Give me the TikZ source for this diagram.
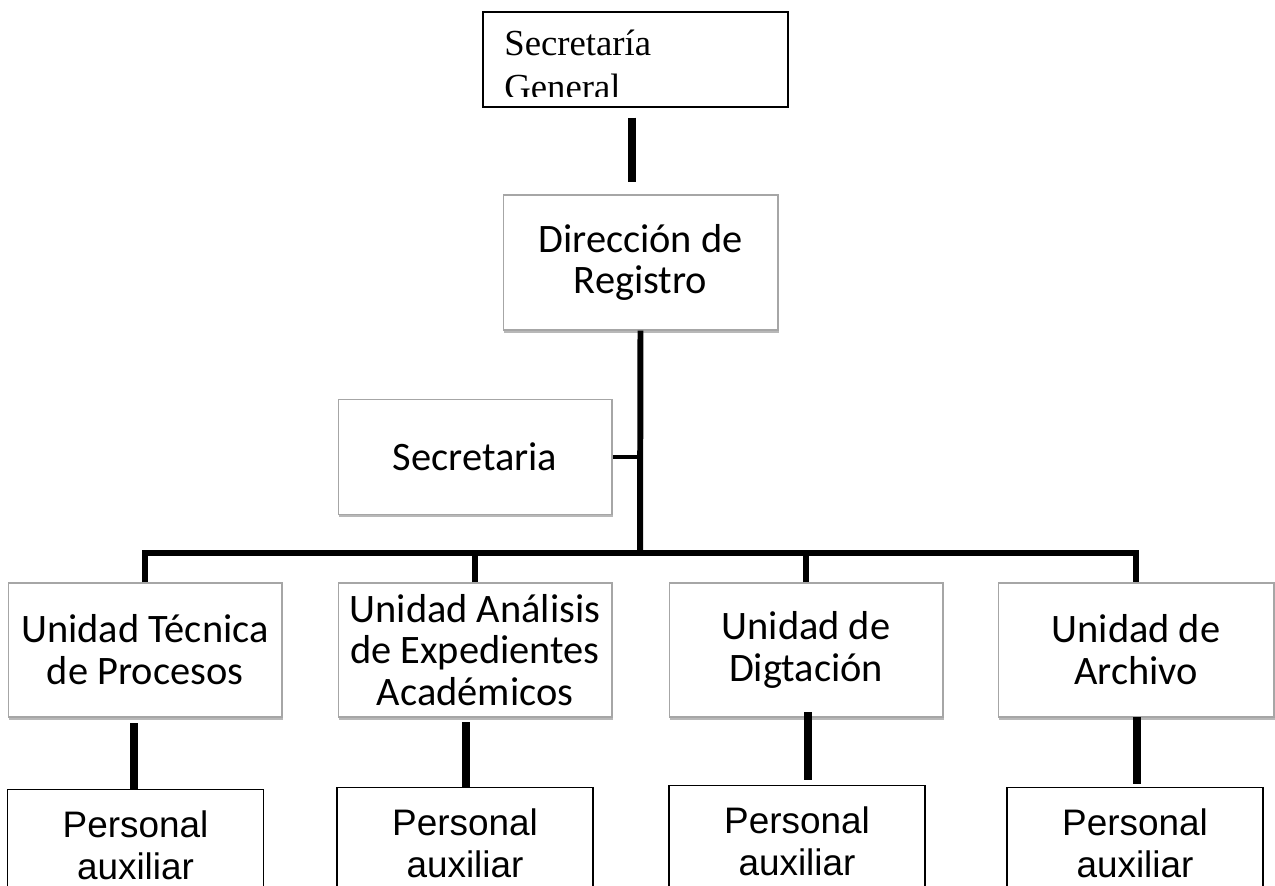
\documentclass[tikz,border=0pt]{standalone}
\usepackage{fontspec}
\usetikzlibrary{shadows}
\newfontfamily\calib{Carlito}
\newfontfamily\arl{Liberation Sans}
\newfontfamily\tnr{Liberation Serif}

\tikzset{
  box/.style={draw=gray!70, line width=0.6pt, fill=white, align=center, inner sep=0pt,
    drop shadow={shadow xshift=0.6pt, shadow yshift=-1.6pt, fill=black, opacity=0.28},
    font={\calib\fontsize{23pt}{23.8pt}\selectfont}},
  unit/.style={box, minimum width=5.48cm, minimum height=2.68cm},
  aux/.style={draw, line width=0.8pt, fill=white, anchor=north, align=center,
    minimum width=5.12cm, inner xsep=0pt, inner ysep=0.42cm,
    font={\arl\fontsize{21pt}{23.8pt}\selectfont}},
  stem/.style={line width=4.2pt},
  bar/.style={line width=3.2pt, line join=miter}
}

\begin{document}
\begin{tikzpicture}[x=0.02cm,y=-0.02cm]
\useasboundingbox (0,0) rectangle (1275,886);

% Secretaria General (text cut off by the box)
\begin{scope}
\clip (483,12) rectangle (788,96);
\node[anchor=north west, inner sep=0pt, align=left,
  font={\tnr\fontsize{20.9pt}{25pt}\selectfont}] (gentxt) at (504,30) {Secretaría\\General};
\end{scope}
\node[draw, line width=0.8pt, minimum width=6.1cm, minimum height=1.9cm] (gen) at (635.5,59.5) {};

\node[box, minimum width=5.5cm, minimum height=2.7cm] (dir) at (640.5,262.5) {Dirección de\\Registro};
\node[box, minimum width=5.48cm, minimum height=2.3cm] (sec) at (475,457) {Secretaria};

\node[unit] (u1) at (145,650) {Unidad Técnica\\de Procesos};
\node[unit] (u2) at (475,650) {Unidad Análisis\\de Expedientes\\Académicos};
\node[unit] (u3) at (806,650) {Unidad de\\Digtación};
\node[unit, minimum width=5.52cm] (u4) at (1136,650) {Unidad de\\Archivo};

\node[aux] (p1) at (135.5,789) {Personal\\auxiliar};
\node[aux] (p2) at (465,787) {Personal\\auxiliar};
\node[aux] (p3) at (797,785) {Personal\\auxiliar};
\node[aux] (p4) at (1135,787) {Personal\\auxiliar};

\coordinate (bus) at (640,553);
\coordinate (s1) at (134,723);
\coordinate (s2) at (466,722);
\coordinate (s3) at (808,712);
\coordinate (s4) at (1137,717);

% connectors
\draw[line width=4.5pt] ([xshift=-0.07cm,yshift=-0.2cm]gen.south) -- ([xshift=-0.07cm,yshift=0.24cm]gen.south |- dir.north);
\draw[bar, line width=3.4pt] (dir.south) -- (bus);
\draw[bar, line width=2.8pt] (sec.east) -- (sec.east -| bus);
\draw[bar] (u1.north) |- (bus) -| (u4.north);
\draw[bar] (u2.north) -- (u2.north |- bus);
\draw[bar] (u3.north) -- (u3.north |- bus);
\foreach \i/\g in {1/0,2/0,3/5,4/3}
  \draw[stem, shorten >=\g*0.02cm] (s\i) -- (s\i |- p\i.north);
\end{tikzpicture}
\end{document}
